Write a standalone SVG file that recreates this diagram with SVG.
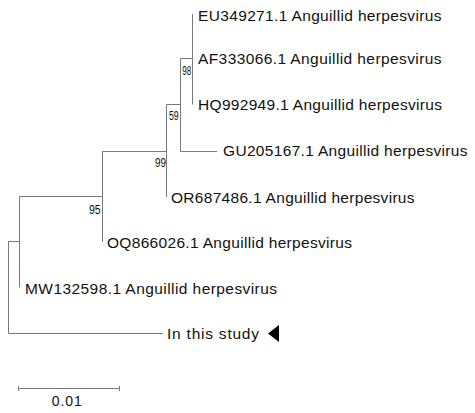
<svg xmlns="http://www.w3.org/2000/svg" width="475" height="413" viewBox="0 0 475 413">
<style>
.br{stroke:#7a7a7a;stroke-width:1;fill:none}
.lb{font-family:"Liberation Sans","DejaVu Sans",sans-serif;font-size:15.5px;fill:#111}
.bs{font-family:"Liberation Sans","DejaVu Sans",sans-serif;font-size:12px;fill:#111}
.sc{font-family:"Liberation Sans","DejaVu Sans",sans-serif;font-size:14px;fill:#111}
</style>
<rect width="475" height="413" fill="#fff"/>
<g id="connectors">
<path class="br" d="M192.5 14V104.5M180.5 58.5H192.5M180.5 58.5V151.5H217M166.5 104.5H180.5M166.5 104.5V197M102.5 151.5H166.5M102.5 151.5V242M19.5 196.5H102.5M19.5 196.5V287.5M8.5 241.5H19.5M8.5 241.5V333.5H163"/>
</g>
<g id="node-EU349271"><text class="lb" x="198" y="20.5" textLength="243.5" lengthAdjust="spacing">EU349271.1 Anguillid herpesvirus</text></g>
<g id="node-AF333066"><text class="lb" x="198" y="64" textLength="243.5" lengthAdjust="spacing">AF333066.1 Anguillid herpesvirus</text></g>
<g id="node-HQ992949"><text class="lb" x="198" y="109.5" textLength="244" lengthAdjust="spacing">HQ992949.1 Anguillid herpesvirus</text></g>
<g id="node-GU205167"><text class="lb" x="223" y="156" textLength="244.5" lengthAdjust="spacing">GU205167.1 Anguillid herpesvirus</text></g>
<g id="node-OR687486"><text class="lb" x="171" y="203" textLength="243.5" lengthAdjust="spacing">OR687486.1 Anguillid herpesvirus</text></g>
<g id="node-OQ866026"><text class="lb" x="107" y="247.5" textLength="245" lengthAdjust="spacing">OQ866026.1 Anguillid herpesvirus</text></g>
<g id="node-MW132598"><text class="lb" x="25" y="294" textLength="252" lengthAdjust="spacing">MW132598.1 Anguillid herpesvirus</text></g>
<g id="node-study"><text class="lb" x="167" y="338.5" textLength="92" lengthAdjust="spacing">In this study</text><polygon points="268,333.5 279,325 279,342" fill="#000"/></g>
<g id="bootstrap">
<text class="bs" x="182.3" y="75" textLength="9" lengthAdjust="spacingAndGlyphs">98</text>
<text class="bs" x="169" y="120" textLength="9.7" lengthAdjust="spacingAndGlyphs">59</text>
<text class="bs" x="155" y="167" textLength="11" lengthAdjust="spacingAndGlyphs">99</text>
<text class="bs" x="89" y="214" textLength="11.7" lengthAdjust="spacingAndGlyphs">95</text>
</g>
<g id="scale">
<path class="br" d="M18.5 388.5H119.5M18.5 386V391M119.5 386V391"/>
<text class="sc" x="51.7" y="406" textLength="30" lengthAdjust="spacing">0.01</text>
</g>
</svg>
